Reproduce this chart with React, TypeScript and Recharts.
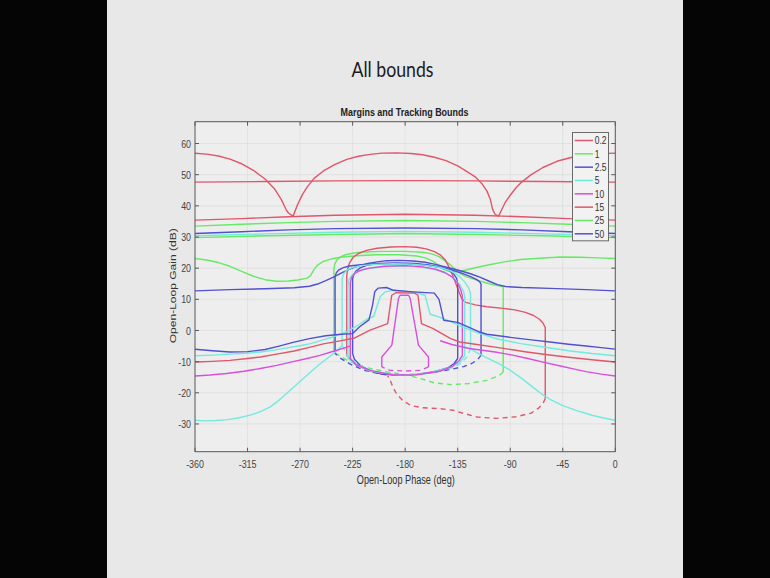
import React from 'react';
import { LineChart, Line, XAxis, YAxis, CartesianGrid, Legend } from 'recharts';

type Pt = [number, number];

// ---------- axes / legend ----------
const phaseTicks = [-360, -315, -270, -225, -180, -135, -90, -45, 0];
const gainTicks = [-30, -20, -10, 0, 10, 20, 30, 40, 50, 60];
const phaseDomain: [number, number] = [-360, 0];
const gainDomain: [number, number] = [-38.9, 67];
const legendLabels = ['0.2', '1', '2.5', '5', '10', '15', '25', '50'];

const RED = '#e0566a';
const GREEN = '#66ea66';
const BLUE = '#5050d2';
const CYAN = '#72eadc';
const MAGENTA = '#da4edc';
const legendColors = [RED, GREEN, BLUE, CYAN, MAGENTA, RED, GREEN, BLUE];

// ---------- bounds (phase deg, gain dB) ----------
const bound02Upper: Pt[] = [
  [-360, 56.9], [-350, 56.6], [-340, 56.0], [-330, 55.0], [-320, 53.5], [-310, 51.4], [-300, 48.6],
  [-292, 45.5], [-286, 42.0], [-282, 38.8], [-280, 37.7], [-276, 36.7], [-272, 40.5], [-268, 43.6],
  [-264, 46.0], [-258, 48.8], [-250, 51.2], [-240, 53.3], [-230, 54.9], [-220, 55.9], [-210, 56.5],
  [-200, 56.9], [-187, 57.0], [-175, 56.8], [-165, 56.4], [-155, 55.6], [-145, 54.5], [-135, 52.8],
  [-127, 51.0], [-120, 49.3], [-114, 47.0], [-110, 44.8], [-107, 42.0], [-105, 38.8], [-103, 37.3],
  [-100, 36.7], [-97, 39.0], [-94, 41.3], [-90, 43.4], [-85, 45.8], [-80, 47.7], [-72, 50.0],
  [-62, 52.3], [-50, 54.3], [-38, 55.5], [-25, 56.3], [-12, 56.7], [0, 56.9],
];
const bound02Line: Pt[] = [[-360, 47.6], [-300, 47.8], [-240, 48.0], [-180, 48.1], [-120, 48.0], [-60, 47.8], [0, 47.6]];
const bound15Upper: Pt[] = [[-360, 35.4], [-320, 35.9], [-280, 36.5], [-240, 37.0], [-180, 37.3], [-120, 37.0], [-80, 36.5], [-40, 35.9], [0, 35.4]];
const bound25Upper: Pt[] = [[-360, 33.5], [-320, 34.1], [-280, 34.6], [-240, 35.0], [-180, 35.3], [-120, 35.0], [-80, 34.6], [-40, 34.1], [0, 33.5]];
const bound50Upper: Pt[] = [[-360, 31.1], [-320, 31.7], [-280, 32.3], [-240, 32.7], [-180, 32.9], [-120, 32.7], [-80, 32.3], [-40, 31.7], [0, 31.1]];
const bound5Upper: Pt[] = [[-360, 30.4], [-300, 31.0], [-240, 31.5], [-180, 31.8], [-120, 31.5], [-60, 31.0], [0, 30.4]];
const bound1Upper: Pt[] = [[-360, 29.8], [-300, 30.4], [-240, 30.8], [-180, 31.1], [-120, 30.8], [-60, 30.4], [0, 29.8]];

const bound1Open: Pt[] = [
  [-360, 23.1], [-350, 22.6], [-340, 21.8], [-330, 20.6], [-320, 19.0], [-310, 17.4], [-300, 16.3],
  [-290, 15.8], [-280, 15.9], [-272, 16.2], [-264, 16.8], [-261, 17.6], [-258, 19.6], [-255, 21.0],
  [-250, 22.2], [-243, 23.0], [-235, 23.5], [-222, 24.0], [-205, 24.3], [-185, 24.3], [-170, 23.9],
  [-162, 23.2], [-156, 22.2], [-151, 20.8], [-147, 19.6], [-142, 18.9], [-136, 18.8], [-128, 19.4],
  [-118, 20.3], [-108, 21.1], [-95, 22.0], [-81, 22.8], [-65, 23.2], [-47, 23.6], [-30, 23.5],
  [-15, 23.3], [0, 23.1],
];
const bound25Arch: Pt[] = [
  [-241, -7.0], [-241, 19.8], [-240.3, 21.3], [-238.5, 22.6], [-235.5, 23.6], [-231, 24.3], [-225, 24.8],
  [-216, 25.2], [-200, 25.4], [-180, 25.4], [-165, 25.1], [-157, 24.6], [-151, 23.7], [-146, 22.4],
  [-141, 21.0], [-137, 19.6], [-133, 18.3], [-128, 17.3], [-120, 16.3], [-108, 15.0], [-100, 14.3],
  [-96, 14.0], [-96, -13.3],
];
const bound25Lower: Pt[] = [
  [-96, -13.3], [-100, -14.6], [-110, -16.0], [-125, -17.0], [-140, -17.4], [-155, -16.8], [-167, -15.4],
  [-180, -14.2], [-195, -13.3], [-215, -11.8], [-230, -9.5], [-241, -7.0],
];
const bound15Arch: Pt[] = [
  [-196, -14.3], [-210, -13.0], [-222, -11.0], [-230, -8.0], [-230, 17.5], [-229.2, 19.8], [-227.5, 21.8],
  [-224.5, 23.5], [-220, 24.7], [-213, 25.7], [-204, 26.4], [-192, 26.8], [-180, 26.9], [-170, 26.7],
  [-162, 26.2], [-155, 25.3], [-150, 24.3], [-146, 22.8], [-143, 20.8], [-140, 18.3], [-137, 15.5],
  [-134, 12.5], [-131.5, 10.2], [-128, 9.0], [-120, 8.2], [-110, 7.6], [-96, 7.1], [-86, 6.6],
  [-77, 5.8], [-70, 4.8], [-65, 3.6], [-62, 2.4], [-60, 1.0], [-60, -21.8],
];
const bound15Lower: Pt[] = [
  [-60, -21.8], [-62, -23.5], [-66, -25.0], [-72, -26.5], [-85, -27.7], [-102, -28.2], [-118, -27.8],
  [-130, -26.6], [-139, -25.6], [-150, -25.1], [-165, -24.8], [-175, -24.1], [-182, -22.5], [-187, -20.5],
  [-190, -18.6], [-192.5, -16.3], [-195, -14.5],
];
const bound25Open: Pt[] = [
  [-360, 12.7], [-330, 13.1], [-300, 13.4], [-275, 13.7], [-262, 14.2], [-255, 14.9], [-248, 16.0],
  [-241, 17.2], [-234, 18.6], [-227, 19.8], [-219, 20.8], [-212, 21.5], [-204, 22.0], [-196, 22.4],
  [-185, 22.5], [-173, 22.3], [-163, 21.9], [-155, 21.3], [-148, 20.6], [-140, 19.9], [-132, 19.1],
  [-124, 18.2], [-116, 17.1], [-108, 15.8], [-101, 14.7], [-94, 14.1], [-80, 13.8], [-56, 13.5],
  [-25, 13.1], [0, 12.7],
];
const bound50Arch: Pt[] = [
  [-240, -7.4], [-240, 17.2], [-239, 18.5], [-237, 19.4], [-233.5, 20.1], [-228, 20.7], [-218, 21.1],
  [-200, 21.4], [-180, 21.4], [-163, 21.0], [-150, 20.3], [-140, 19.4], [-131, 18.3], [-124, 17.3],
  [-119, 16.4], [-116, 15.6], [-115, 14.8], [-115, -7.9],
];
const bound50Lower: Pt[] = [
  [-115, -7.9], [-118, -9.4], [-123, -10.6], [-130, -11.6], [-140, -12.4], [-152, -13.2], [-165, -13.9],
  [-180, -14.3], [-200, -14.0], [-215, -12.8], [-227, -10.8], [-235, -9.0], [-240, -7.4],
];
const bound2p5Arch: Pt[] = [
  [-225, -7.4], [-225, 16.6], [-224, 18.0], [-222, 19.1], [-218.5, 20.1], [-213, 20.9], [-203, 21.5],
  [-188, 21.7], [-172, 21.5], [-160, 21.0], [-150, 20.3], [-143, 19.4], [-138.5, 18.2], [-136, 16.8],
  [-135, 15.2], [-135, -9.0], [-138, -10.6], [-143, -11.9], [-155, -13.2], [-170, -14.1], [-185, -14.4],
  [-200, -14.0], [-211, -12.8], [-219, -11.0], [-223.5, -9.2], [-225, -7.4],
];
const bound5Outer: Pt[] = [
  [-360, -28.8], [-352, -29.0], [-342, -28.9], [-332, -28.6], [-322, -28.0], [-312, -27.1], [-303, -25.9],
  [-296, -24.6], [-290, -23.0], [-284, -21.0], [-278, -19.0], [-272, -17.0], [-266, -15.0], [-260, -13.0],
  [-254, -11.1], [-248, -9.3], [-242, -7.6], [-237, -6.0], [-234, -4.8], [-234, 16.4], [-233, 18.0],
  [-230.5, 19.2], [-226, 20.1], [-218, 20.8], [-205, 21.2], [-190, 21.4], [-175, 21.3], [-162, 20.9],
  [-150, 20.2], [-141, 19.1], [-134, 17.5], [-129, 15.6], [-125.5, 13.6], [-124, 11.8], [-124, -5.8],
  [-119, -7.0], [-113, -8.2], [-106, -9.5], [-99, -10.8], [-92, -12.3], [-85, -14.1], [-78, -16.0],
  [-71, -18.1], [-63, -20.4], [-55, -22.3], [-45, -24.1], [-33, -25.7], [-20, -27.2], [-10, -28.1], [0, -28.8],
];
const bound5Lower: Pt[] = [
  [-124, -5.8], [-127, -8.4], [-132, -10.5], [-140, -12.0], [-155, -13.5], [-170, -14.2], [-185, -14.3],
  [-205, -13.3], [-220, -11.0], [-229, -8.3], [-234, -4.8],
];
const bound5Inner: Pt[] = [
  [-229, -9.0], [-229, 14.6], [-228, 16.4], [-225.5, 17.8], [-221, 18.9], [-213, 19.8], [-198, 20.5],
  [-180, 20.7], [-165, 20.3], [-154, 19.5], [-145, 18.3], [-138, 16.6], [-133, 14.6], [-130, 12.6],
  [-129, 11.0], [-129, -8.0], [-133, -10.2], [-140, -11.7], [-160, -13.6], [-185, -14.4], [-210, -13.0],
  [-222, -11.0], [-229, -9.0],
];
const bound10Arch: Pt[] = [
  [-227, -9.0], [-227, 15.2], [-226, 16.9], [-223.5, 18.2], [-219, 19.2], [-211, 20.0], [-198, 20.6],
  [-180, 20.8], [-165, 20.4], [-154, 19.7], [-146, 18.6], [-139.5, 17.1], [-135, 15.2], [-132.3, 13.0],
  [-131, 11.0], [-131, -8.0], [-134, -9.8], [-140, -11.6], [-150, -13.0], [-170, -14.2], [-190, -14.3],
  [-210, -12.8], [-222, -11.0], [-227, -9.0],
];
const bound2p5Lower: Pt[] = [
  [-360, -6.0], [-345, -6.5], [-330, -6.9], [-315, -6.8], [-300, -6.1], [-288, -5.0], [-276, -3.8],
  [-262, -2.6], [-248, -1.7], [-235, -1.2], [-225, -1.0], [-219, 1.2], [-211, 3.4], [-208, 8.0],
  [-206, 12.5], [-203, 13.6], [-196, 13.8], [-190, 12.9], [-173, 12.4], [-155, 12.0], [-151, 10.0],
  [-147, 3.3], [-135, 2.6], [-117, -0.4], [-110, -1.2], [-90, -2.2], [-70, -3.1], [-56, -3.7],
  [-40, -4.4], [-25, -5.0], [-12, -5.5], [0, -6.0],
];
const bound0p2Lower: Pt[] = [
  [-360, -10.1], [-345, -9.9], [-330, -9.6], [-315, -9.0], [-304, -8.5], [-290, -7.6], [-275, -6.6],
  [-262, -5.4], [-250, -4.3], [-237, -3.4], [-224, -2.5], [-210, 0.1], [-195, 2.2], [-191.5, 11.3],
  [-188, 12.1], [-172, 12.0], [-169, 11.3], [-166, 2.2], [-156, 0.6], [-141, -2.6], [-133, -3.7],
  [-120, -4.4], [-100, -5.5], [-88, -6.2], [-76, -6.9], [-58, -7.8], [-40, -8.6], [-20, -9.4], [0, -10.1],
];
const bound5Mid: Pt[] = [
  [-360, -8.1], [-345, -7.9], [-330, -7.6], [-316, -7.3], [-304, -6.9], [-292, -6.3], [-280, -5.5],
  [-270, -4.9], [-261, -4.2], [-251, -3.1], [-241, -2.0], [-230, -0.4], [-219, 2.0], [-212, 3.8],
  [-207, 4.4], [-201.4, 10.8], [-197, 12.4], [-190, 12.9], [-170, 12.1], [-163, 11.3], [-158.6, 5.2],
  [-150, 4.2], [-144, 3.3], [-130, 1.0], [-116, -1.0], [-100, -2.8], [-81, -4.2], [-60, -5.4],
  [-40, -6.5], [-20, -7.4], [0, -8.1],
];
const bound10LowerLeft: Pt[] = [
  [-360, -14.6], [-347, -14.3], [-333, -13.8], [-318, -13.1], [-304, -12.2], [-290, -11.2], [-276, -10.0],
  [-264, -9.0], [-253, -8.0], [-240, -6.5], [-227, -5.0],
];
const bound10LowerRight: Pt[] = [
  [-150, -3.3], [-140, -4.5], [-125, -5.8], [-103, -6.9], [-88, -7.9], [-75, -9.0], [-60, -10.3],
  [-47, -11.4], [-35, -12.4], [-25, -13.2], [-12, -14.0], [0, -14.6],
];
const bound10Tower: Pt[] = [
  [-200, -11.7], [-200, -8.5], [-191.4, -4.7], [-185.7, 10.3], [-184.3, 11.3], [-177.1, 11.3],
  [-175.7, 10.3], [-168.6, -4.7], [-160, -8.5], [-160, -11.7],
];
const bound10TowerLower: Pt[] = [[-160, -11.7], [-167, -12.8], [-180, -13.0], [-193, -12.8], [-200, -11.7]];

type Series = { pts: Pt[]; color: string; dashed?: boolean };
const series: Series[] = [
  { pts: bound1Upper, color: GREEN },
  { pts: bound5Upper, color: CYAN },
  { pts: bound50Upper, color: BLUE },
  { pts: bound25Upper, color: GREEN },
  { pts: bound15Upper, color: RED },
  { pts: bound02Upper, color: RED },
  { pts: bound1Open, color: GREEN },
  { pts: bound25Arch, color: GREEN },
  { pts: bound25Lower, color: GREEN, dashed: true },
  { pts: bound15Arch, color: RED },
  { pts: bound15Lower, color: RED, dashed: true },
  { pts: bound25Open, color: BLUE },
  { pts: bound50Arch, color: BLUE },
  { pts: bound50Lower, color: BLUE, dashed: true },
  { pts: bound2p5Arch, color: BLUE },
  { pts: bound5Outer, color: CYAN },
  { pts: bound5Lower, color: CYAN, dashed: true },
  { pts: bound5Inner, color: CYAN },
  { pts: bound10Arch, color: MAGENTA },
  { pts: bound5Mid, color: CYAN },
  { pts: bound10LowerLeft, color: MAGENTA },
  { pts: bound10LowerRight, color: MAGENTA },
  { pts: bound0p2Lower, color: RED },
  { pts: bound2p5Lower, color: BLUE },
  { pts: bound10Tower, color: MAGENTA },
  { pts: bound10TowerLower, color: MAGENTA, dashed: true },
];

const toXY = (pts: Pt[]) => pts.map(([x, y]) => ({ x, y }));

// ---------- styling ----------
const FONT = '"Liberation Sans", Arial, Helvetica, sans-serif';
const AXIS = '#5a5a5a';
const TICK_TEXT = '#444444';
const SQ = 0.77;
const TL = 4;
const SW = 1.4;

const BottomTick = (p: any) => (
  <g>
    <line x1={p.x} x2={p.x} y1={p.y} y2={p.y - TL} stroke={AXIS} strokeWidth={1} />
    <text transform={`translate(${p.x},${p.y + 16.6}) scale(${SQ},1)`} textAnchor="middle"
      fontSize={11.5} fontFamily={FONT} fill={TICK_TEXT}>{p.payload.value}</text>
  </g>
);
const LeftTick = (p: any) => (
  <g>
    <line x1={p.x} x2={p.x + TL} y1={p.y} y2={p.y} stroke={AXIS} strokeWidth={1} />
    <text transform={`translate(${p.x - 4},${p.y + 4.1}) scale(${SQ},1)`} textAnchor="end"
      fontSize={11.5} fontFamily={FONT} fill={TICK_TEXT}>{p.payload.value}</text>
  </g>
);
const TopTick = (p: any) => (
  <line x1={p.x} x2={p.x} y1={p.y} y2={p.y + TL} stroke={AXIS} strokeWidth={1} />
);
const RightTick = (p: any) => (
  <line x1={p.x} x2={p.x - TL} y1={p.y} y2={p.y} stroke={AXIS} strokeWidth={1} />
);

const LegendBox = () => (
  <svg width={38} height={110} style={{ display: 'block' }}>
    <rect x={0.5} y={0.5} width={36} height={108.3} fill="#f2f2f2" stroke="#6a6a6a" strokeWidth={1} />
    {legendLabels.map((lab, i) => {
      const cy = 8.5 + i * 13.33;
      return (
        <g key={lab + i}>
          <line x1={2.7} x2={21} y1={cy} y2={cy} stroke={legendColors[i]} strokeWidth={1.5} />
          <text transform={`translate(22.8,${cy + 3.8}) scale(${SQ},1)`} fontSize={11}
            fontFamily={FONT} fill="#333">{lab}</text>
        </g>
      );
    })}
  </svg>
);

export default function App() {
  return (
    <div style={{ position: 'fixed', left: 0, top: 0, width: 770, height: 578, background: '#050505', overflow: 'hidden' }}>
      <div style={{ position: 'absolute', left: 107, top: 0, width: 576, height: 578, background: '#e8e8e8' }} />
      <svg width={770} height={578} style={{ position: 'absolute', left: 0, top: 0 }}>
        <text x={392.5} y={77} textAnchor="middle" fontSize={22} fontFamily="Lato, 'Open Sans', sans-serif"
          fill="#1c1c1c" textLength={82} lengthAdjust="spacingAndGlyphs">All bounds</text>
        <text x={404.5} y={115.5} textAnchor="middle" fontSize={11.5} fontWeight="bold" fontFamily={FONT}
          fill="#222" textLength={128} lengthAdjust="spacingAndGlyphs">Margins and Tracking Bounds</text>
        <text x={405.8} y={484.3} textAnchor="middle" fontSize={12} fontFamily={FONT}
          fill="#333" textLength={98} lengthAdjust="spacingAndGlyphs">Open-Loop Phase (deg)</text>
        <text transform={`translate(176.3,285.8) rotate(-90) scale(1,${SQ})`} textAnchor="middle" fontSize={12}
          fontFamily={FONT} fill="#333" textLength={115} lengthAdjust="spacingAndGlyphs">Open-Loop Gain (dB)</text>
      </svg>
      <div style={{ position: 'absolute', left: 0, top: 0 }}>
        <LineChart width={770} height={578} margin={{ top: 120.7, right: 153.7, bottom: 96.3, left: 155 }}>
          <CartesianGrid fill="#eeeeee" stroke="#dedede" strokeWidth={0.8} />
          <XAxis dataKey="x" type="number" domain={phaseDomain} ticks={phaseTicks} allowDataOverflow
            height={30} tickSize={0} tickMargin={0} tick={BottomTick} axisLine={{ stroke: AXIS }} tickLine={false} interval={0} />
          <XAxis xAxisId="top" orientation="top" dataKey="x" type="number" domain={phaseDomain} ticks={phaseTicks}
            allowDataOverflow height={1} tickSize={0} tickMargin={0} tick={TopTick} axisLine={{ stroke: AXIS }} tickLine={false} interval={0} />
          <YAxis type="number" domain={gainDomain} ticks={gainTicks} allowDataOverflow width={40}
            tickSize={0} tickMargin={0} tick={LeftTick} axisLine={{ stroke: AXIS }} tickLine={false} interval={0} />
          <YAxis yAxisId="right" orientation="right" type="number" domain={gainDomain} ticks={gainTicks} allowDataOverflow
            width={1} tickSize={0} tickMargin={0} tick={RightTick} axisLine={{ stroke: AXIS }} tickLine={false} interval={0} />
          <Legend layout="horizontal" verticalAlign="middle" align="center" content={LegendBox}
            wrapperStyle={{ position: 'absolute', left: 572, top: 131.5, width: 38, height: 110, margin: 0, padding: 0 }} />
          {series.map((s, i) => (
            <Line key={i} data={toXY(s.pts)} dataKey="y" type="linear" stroke={s.color} strokeWidth={SW}
              strokeDasharray={s.dashed ? '5 4' : undefined} dot={false} activeDot={false}
              strokeLinejoin="round" isAnimationActive={false} legendType="none" />
          ))}
          <Line data={toXY(bound02Line)} dataKey="y" xAxisId="top" yAxisId="right" type="linear" stroke={RED}
            strokeWidth={SW} dot={false} activeDot={false} isAnimationActive={false} legendType="none" />
        </LineChart>
      </div>
    </div>
  );
}
